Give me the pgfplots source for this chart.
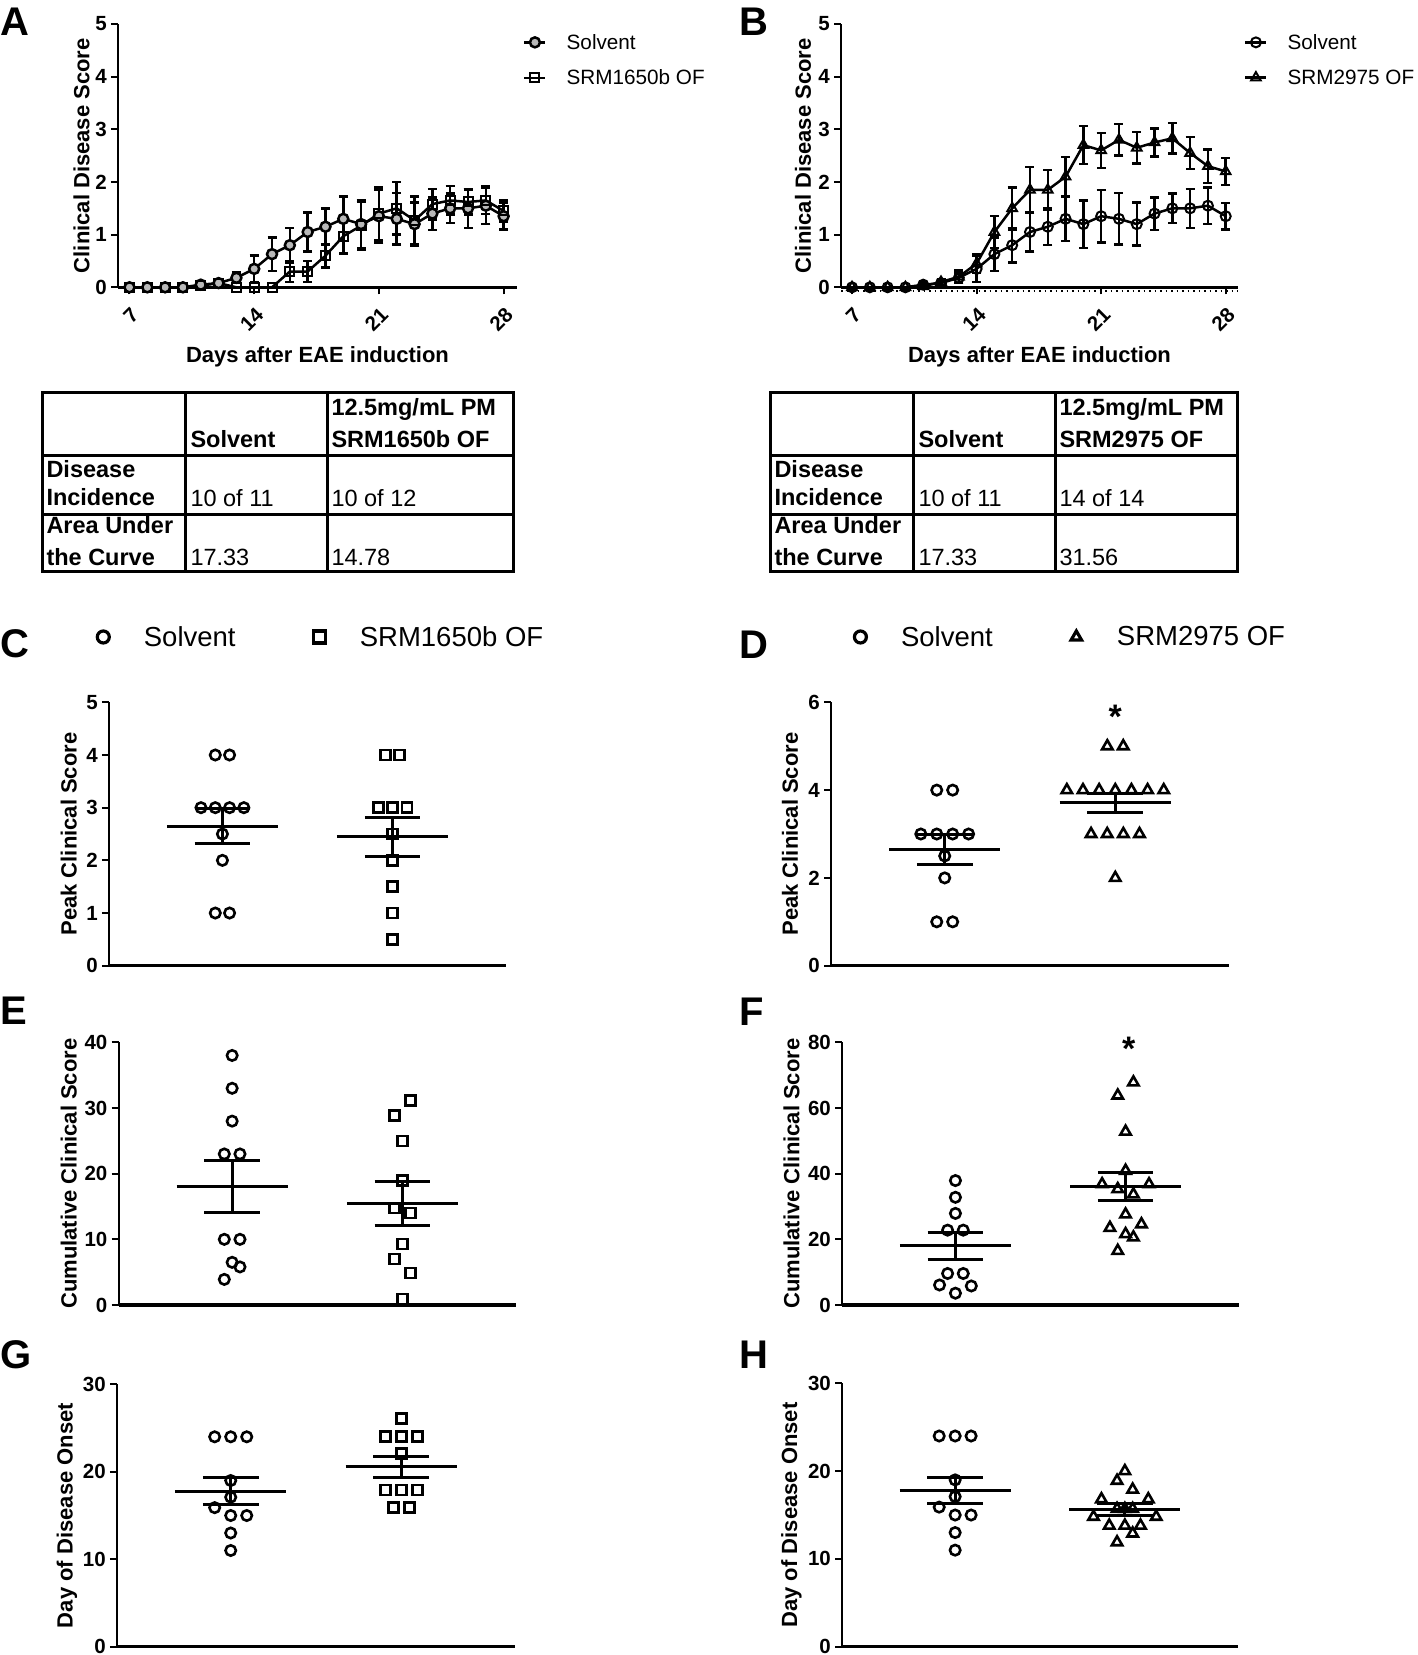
\documentclass[border=0pt]{standalone}
\usepackage{fontspec}
\setmainfont{Liberation Sans}
\usepackage{pgfplots}
\pgfplotsset{compat=1.18}
\newcommand{\fs}[1]{\fontsize{#1}{#1}\selectfont}
\pgfplotsset{
  base/.style={
    scale only axis, anchor=south west, clip=false,
    axis lines=left, axis line style={-, line width=2pt},
    x axis line style={line width=3.5pt},
    tick align=outside, major tick style={black, line width=2pt},
    major tick length=7pt,
    unbounded coords=jump,
    /pgf/number format/assume math mode=true,
    yticklabel style={font=\fs{20.5}\bfseries, inner sep=4pt},
    xticklabel style={font=\fs{20.5}\bfseries},
    label style={font=\fs{22}\bfseries},
  },
  yl/.style={ylabel style={at={(axis description cs:#1,0.5)}, anchor=center}},
  scat/.style={base, xmin=0, xmax=3.5, xtick=\empty,
    legend columns=2,
    legend style={draw=none, fill=none, inner sep=0pt, font=\fs{27.5},
      /tikz/every odd column/.append style={column sep=30.4pt},
      /tikz/every even column/.append style={column sep=73.4pt}},
    legend image post style={mark size=6pt, mark options={line width=3.2pt, solid}},
    legend image code/.code={\draw[##1, mark size=6pt] plot coordinates {(8pt,0pt)}; \path (0pt,-8pt) (16pt,8pt);},
  },
  tc/.style={base, ymin=0, ymax=5, ytick={0,...,5}, xtick={7,14,21,28},
    xticklabel style={xshift=8pt, yshift=-15pt, rotate=45, anchor=east},
    xlabel={Days after EAE induction}, ylabel={Clinical Disease Score},
    xlabel style={at={(axis description cs:0.5,-0.2837)}, anchor=base},
    legend cell align=left,
    legend style={draw=none, fill=none, inner sep=0pt, font=\fs{20.7}, row sep=15pt,
      /tikz/every odd column/.append style={column sep=18pt}},
    legend image code/.code={\draw[##1, mark repeat=2, mark phase=2] plot coordinates {(0pt,0pt) (10.5pt,0pt) (21pt,0pt)};},
  },
  ser/.style={black, line width=2.5pt, mark size=5pt, mark options={line width=2pt, solid},
    error bars/y dir=both, error bars/y explicit,
    error bars/error bar style={line width=2.5pt},
    error bars/error mark options={rotate=90, line width=2.5pt, mark size=4.5pt}},
  mk/.style={only marks, black, mark options={line width=2.6pt, solid}},
  meanline/.style={black, line width=3pt, forget plot},
}
\begin{document}
\begin{tikzpicture}
\useasboundingbox (0pt,0pt) rectangle (1417pt,-1655pt);
% panel letters
\begin{scope}[every node/.style={anchor=base west, inner sep=0pt, font=\fs{40}\bfseries}]
\node at (0pt,-35pt) {A};
\node at (739pt,-35pt) {B};
\node at (0pt,-657pt) {C};
\node at (739pt,-658pt) {D};
\node at (0pt,-1024pt) {E};
\node at (739pt,-1025pt) {F};
\node at (0pt,-1368pt) {G};
\node at (739pt,-1368pt) {H};
\end{scope}
% tables
\begin{scope}[line width=3pt, every node/.style={anchor=base west, inner sep=0pt, font=\fs{23.5}}]
\draw (42pt,-392pt) rectangle (513pt,-571pt);
\draw (185pt,-392pt) -- (185pt,-571pt);
\draw (327pt,-392pt) -- (327pt,-571pt);
\draw (42pt,-455pt) -- (513pt,-455pt);
\draw (42pt,-514pt) -- (513pt,-514pt);
\node[font=\fs{23.5}\bfseries] at (189pt,-447pt) {Solvent};
\node[font=\fs{23.5}\bfseries] at (330pt,-415pt) {12.5mg/mL PM};
\node[font=\fs{23.5}\bfseries] at (330pt,-447pt) {SRM1650b OF};
\node[font=\fs{23.5}\bfseries] at (45pt,-477pt) {Disease};
\node[font=\fs{23.5}\bfseries] at (45pt,-505pt) {Incidence};
\node at (189pt,-506pt) {10 of 11};
\node at (330pt,-506pt) {10 of 12};
\node[font=\fs{23.5}\bfseries] at (45pt,-533pt) {Area Under};
\node[font=\fs{23.5}\bfseries] at (45pt,-565pt) {the Curve};
\node at (189pt,-565pt) {17.33};
\node at (330pt,-565pt) {14.78};
\draw (770pt,-392pt) rectangle (1237pt,-571pt);
\draw (913pt,-392pt) -- (913pt,-571pt);
\draw (1055pt,-392pt) -- (1055pt,-571pt);
\draw (770pt,-455pt) -- (1237pt,-455pt);
\draw (770pt,-514pt) -- (1237pt,-514pt);
\node[font=\fs{23.5}\bfseries] at (917pt,-447pt) {Solvent};
\node[font=\fs{23.5}\bfseries] at (1058pt,-415pt) {12.5mg/mL PM};
\node[font=\fs{23.5}\bfseries] at (1058pt,-447pt) {SRM2975 OF};
\node[font=\fs{23.5}\bfseries] at (773pt,-477pt) {Disease};
\node[font=\fs{23.5}\bfseries] at (773pt,-505pt) {Incidence};
\node at (917pt,-506pt) {10 of 11};
\node at (1058pt,-506pt) {14 of 14};
\node[font=\fs{23.5}\bfseries] at (773pt,-533pt) {Area Under};
\node[font=\fs{23.5}\bfseries] at (773pt,-565pt) {the Curve};
\node at (917pt,-565pt) {17.33};
\node at (1058pt,-565pt) {31.56};
\end{scope}

% ---------- A ----------
\begin{axis}[tc, at={(118pt,-287.3pt)}, width=399pt, height=263.3pt,
  xmin=6.355, xmax=28.75, yl=-0.0915,
  legend style={at={(axis description cs:1.015,0.97)}, anchor=north west}]
\addplot[ser, mark=*, mark options={fill=gray!55}] coordinates {
(7,0) +- (0,0) (8,0) +- (0,0) (9,0) +- (0,0) (10,0) +- (0,0)
(11,0.05) +- (0,0.04) (12,0.08) +- (0,0.06) (13,0.18) +- (0,0.1)
(14,0.35) +- (0,0.25) (15,0.63) +- (0,0.32) (16,0.8) +- (0,0.33)
(17,1.05) +- (0,0.37) (18,1.15) +- (0,0.35) (19,1.3) +- (0,0.42)
(20,1.2) +- (0,0.45) (21,1.35) +- (0,0.5) (22,1.3) +- (0,0.49)
(23,1.2) +- (0,0.41) (24,1.4) +- (0,0.31) (25,1.5) +- (0,0.28)
(26,1.5) +- (0,0.37) (27,1.55) +- (0,0.35) (28,1.35) +- (0,0.25)};
\addlegendentry{Solvent}
\addplot[ser, mark=square, mark size=4.5pt] coordinates {
(7,0) +- (0,0) (8,0) +- (0,0) (9,0) +- (0,0) (10,0) +- (0,0)
(11,0.03) +- (0,0.03) (12,0.08) +- (0,0.05) (13,0) +- (0,0)
(14,0) +- (0,0) (15,0) +- (0,0) (16,0.3) +- (0,0.2)
(17,0.3) +- (0,0.2) (18,0.6) +- (0,0.22) (19,0.97) +- (0,0.33)
(20,1.17) +- (0,0.45) (21,1.4) +- (0,0.5) (22,1.5) +- (0,0.5)
(23,1.27) +- (0,0.45) (24,1.58) +- (0,0.29) (25,1.65) +- (0,0.27)
(26,1.62) +- (0,0.24) (27,1.65) +- (0,0.26) (28,1.45) +- (0,0.2)};
\addlegendentry{SRM1650b OF}
\end{axis}

% ---------- B ----------
\begin{axis}[tc, at={(841pt,-287.3pt)}, width=397pt, height=263.3pt,
  xmin=6.38, xmax=28.69, yl=-0.0957,
  legend style={at={(axis description cs:1.015,0.97)}, anchor=north west}]
\addplot[forget plot, black, line width=2pt, dash pattern=on 1.5pt off 4pt, yshift=-4pt] coordinates {(6.38,0) (28.69,0)};
\addplot[ser, mark=o] coordinates {
(7,0) +- (0,0) (8,0) +- (0,0) (9,0) +- (0,0) (10,0) +- (0,0)
(11,0.05) +- (0,0.04) (12,0.08) +- (0,0.06) (13,0.18) +- (0,0.1)
(14,0.35) +- (0,0.25) (15,0.63) +- (0,0.32) (16,0.8) +- (0,0.33)
(17,1.05) +- (0,0.37) (18,1.15) +- (0,0.35) (19,1.3) +- (0,0.42)
(20,1.2) +- (0,0.45) (21,1.35) +- (0,0.5) (22,1.3) +- (0,0.49)
(23,1.2) +- (0,0.41) (24,1.4) +- (0,0.31) (25,1.5) +- (0,0.28)
(26,1.5) +- (0,0.37) (27,1.55) +- (0,0.35) (28,1.35) +- (0,0.25)};
\addlegendentry{Solvent}
\addplot[ser, mark=triangle, mark size=5.5pt] coordinates {
(7,0) +- (0,0) (8,0) +- (0,0) (9,0) +- (0,0) (10,0) +- (0,0)
(11,0.02) +- (0,0.02) (12,0.1) +- (0,0.06) (13,0.2) +- (0,0.12)
(14,0.45) +- (0,0.18) (15,1.05) +- (0,0.3) (16,1.5) +- (0,0.4)
(17,1.85) +- (0,0.43) (18,1.85) +- (0,0.38) (19,2.1) +- (0,0.37)
(20,2.7) +- (0,0.36) (21,2.6) +- (0,0.33) (22,2.8) +- (0,0.3)
(23,2.65) +- (0,0.3) (24,2.75) +- (0,0.27) (25,2.83) +- (0,0.29)
(26,2.55) +- (0,0.3) (27,2.3) +- (0,0.32) (28,2.2) +- (0,0.26)};
\addlegendentry{SRM2975 OF}
\end{axis}

% ---------- C ----------
\begin{axis}[scat, at={(109pt,-965.7pt)}, width=397pt, height=263.4pt,
  ymin=0, ymax=5, ytick={0,...,5}, ylabel={Peak Clinical Score}, yl=-0.1015,
  legend style={at={(axis description cs:-0.0355,1.248)}, anchor=west}]
\addplot[mk, mark=o, mark size=5.2pt] coordinates {(0.937,4) (1.063,4) (0.811,3) (0.937,3) (1.063,3) (1.189,3) (1,2.5) (1,2) (0.937,1) (1.063,1)};
\addlegendentry{Solvent}
\addplot[mk, mark=square, mark size=5pt] coordinates {(2.437,4) (2.563,4) (2.374,3) (2.5,3) (2.626,3) (2.5,2.5) (2.5,2) (2.5,1.5) (2.5,1) (2.5,0.5)};
\addlegendentry{SRM1650b OF}
\addplot[meanline] coordinates {(0.51,2.65) (1.49,2.65) (nan,nan) (1,2.32) (1,2.98) (nan,nan) (0.755,2.32) (1.245,2.32) (nan,nan) (0.755,2.98) (1.245,2.98)};
\addplot[meanline] coordinates {(2.01,2.45) (2.99,2.45) (nan,nan) (2.5,2.07) (2.5,2.82) (nan,nan) (2.255,2.07) (2.745,2.07) (nan,nan) (2.255,2.82) (2.745,2.82)};
\end{axis}

% ---------- D ----------
\begin{axis}[scat, at={(831pt,-965.7pt)}, width=398pt, height=263.4pt,
  ymin=0, ymax=6, ytick={0,2,4,6}, ylabel={Peak Clinical Score}, yl=-0.103,
  legend style={at={(axis description cs:0.0528,1.248)}, anchor=west}]
\addplot[mk, mark=o, mark size=5.2pt] coordinates {(0.93,4) (1.07,4) (0.79,3) (0.93,3) (1.07,3) (1.21,3) (1,2.5) (1,2) (0.93,1) (1.07,1)};
\addlegendentry{Solvent}
\addplot[mk, mark=triangle, mark size=6pt] coordinates {(2.43,5) (2.57,5) (2.074,4) (2.216,4) (2.358,4) (2.5,4) (2.642,4) (2.784,4) (2.926,4) (2.287,3) (2.429,3) (2.571,3) (2.713,3) (2.5,2)};
\addlegendentry{SRM2975 OF}
\addplot[meanline] coordinates {(0.51,2.65) (1.49,2.65) (nan,nan) (1,2.31) (1,2.98) (nan,nan) (0.755,2.31) (1.245,2.31) (nan,nan) (0.755,2.98) (1.245,2.98)};
\addplot[meanline] coordinates {(2.01,3.71) (2.99,3.71) (nan,nan) (2.5,3.49) (2.5,3.93) (nan,nan) (2.255,3.49) (2.745,3.49) (nan,nan) (2.255,3.93) (2.745,3.93)};
\node[anchor=north, inner sep=0pt, font=\fs{34}\bfseries] at (axis cs:2.5,5.94) {*};
\end{axis}

% ---------- E ----------
\begin{axis}[scat, at={(118.6pt,-1305pt)}, width=397.4pt, height=262.7pt,
  ymin=0, ymax=40, ytick={0,10,...,40}, ylabel={Cumulative Clinical Score}, yl=-0.1256]
\addplot[mk, mark=o, mark size=5.2pt] coordinates {(1,38) (1,33) (1,28) (0.931,23) (1.069,23) (0.931,10) (1.069,10) (1,6.5) (1.069,5.8) (0.931,3.9)};
\addplot[mk, mark=square, mark size=5pt] coordinates {(2.569,31.1) (2.431,28.9) (2.5,25) (2.5,19) (2.431,14.8) (2.569,14) (2.5,9.3) (2.431,7) (2.569,4.9) (2.5,0.9)};
\addplot[meanline] coordinates {(0.51,18.1) (1.49,18.1) (nan,nan) (1,14.1) (1,22.0) (nan,nan) (0.755,14.1) (1.245,14.1) (nan,nan) (0.755,22.0) (1.245,22.0)};
\addplot[meanline] coordinates {(2.01,15.5) (2.99,15.5) (nan,nan) (2.5,12.1) (2.5,18.8) (nan,nan) (2.255,12.1) (2.745,12.1) (nan,nan) (2.255,18.8) (2.745,18.8)};
\end{axis}

% ---------- F ----------
\begin{axis}[scat, at={(842pt,-1305pt)}, width=397pt, height=262.7pt,
  ymin=0, ymax=80, ytick={0,20,...,80}, ylabel={Cumulative Clinical Score}, yl=-0.127]
\addplot[mk, mark=o, mark size=5.2pt] coordinates {(1,37.9) (1,32.8) (1,27.9) (0.931,22.8) (1.069,22.8) (0.931,9.6) (1.069,9.6) (0.86,6.1) (1.14,5.8) (1,3.6)};
\addplot[mk, mark=triangle, mark size=6pt] coordinates {(2.569,67.8) (2.431,63.8) (2.5,52.8) (2.5,40.9) (2.293,36.8) (2.707,36.8) (2.431,35.3) (2.569,33.7) (2.5,27.6) (2.64,24.6) (2.362,23.5) (2.5,21.6) (2.569,20.6) (2.431,16.5)};
\addplot[meanline] coordinates {(0.51,18.0) (1.49,18.0) (nan,nan) (1,14.0) (1,22.0) (nan,nan) (0.755,14.0) (1.245,14.0) (nan,nan) (0.755,22.0) (1.245,22.0)};
\addplot[meanline] coordinates {(2.01,36.0) (2.99,36.0) (nan,nan) (2.5,31.8) (2.5,40.3) (nan,nan) (2.255,31.8) (2.745,31.8) (nan,nan) (2.255,40.3) (2.745,40.3)};
\node[anchor=north, inner sep=0pt, font=\fs{34}\bfseries] at (axis cs:2.527,81.6) {*};
\end{axis}

% ---------- G ----------
\begin{axis}[scat, at={(117pt,-1646.7pt)}, width=398pt, height=262.4pt,
  ymin=0, ymax=30, ytick={0,10,20,30}, ylabel={Day of Disease Onset}, yl=-0.1256]
\addplot[mk, mark=o, mark size=5.2pt] coordinates {(0.859,24) (1,24) (1.141,24) (1,19) (1,17.1) (0.859,15.9) (1,15) (1.141,15) (1,13) (1,11)};
\addplot[mk, mark=square, mark size=5pt] coordinates {(2.5,26.1) (2.359,24) (2.5,24) (2.641,24) (2.5,22.1) (2.359,17.9) (2.5,17.9) (2.641,17.9) (2.43,15.9) (2.57,15.9)};
\addplot[meanline] coordinates {(0.51,17.8) (1.49,17.8) (nan,nan) (1,16.3) (1,19.3) (nan,nan) (0.755,16.3) (1.245,16.3) (nan,nan) (0.755,19.3) (1.245,19.3)};
\addplot[meanline] coordinates {(2.01,20.6) (2.99,20.6) (nan,nan) (2.5,19.4) (2.5,21.8) (nan,nan) (2.255,19.4) (2.745,19.4) (nan,nan) (2.255,21.8) (2.745,21.8)};
\end{axis}

% ---------- H ----------
\begin{axis}[scat, at={(842pt,-1646.7pt)}, width=396pt, height=263.4pt,
  ymin=0, ymax=30, ytick={0,10,20,30}, ylabel={Day of Disease Onset}, yl=-0.1275]
\addplot[mk, mark=o, mark size=5.2pt] coordinates {(0.859,24) (1,24) (1.141,24) (1,19) (1,17.1) (0.859,15.9) (1,15) (1.141,15) (1,13) (1,11)};
\addplot[mk, mark=triangle, mark size=6pt] coordinates {(2.5,20) (2.431,18.9) (2.569,17.9) (2.293,16.8) (2.707,16.8) (2.431,15.7) (2.5,15.7) (2.569,15.7) (2.223,14.8) (2.777,14.8) (2.362,13.8) (2.5,13.8) (2.638,13.8) (2.569,12.9) (2.431,11.9)};
\addplot[meanline] coordinates {(0.51,17.8) (1.49,17.8) (nan,nan) (1,16.3) (1,19.3) (nan,nan) (0.755,16.3) (1.245,16.3) (nan,nan) (0.755,19.3) (1.245,19.3)};
\addplot[meanline] coordinates {(2.01,15.65) (2.99,15.65) (nan,nan) (2.5,15.0) (2.5,16.35) (nan,nan) (2.255,15.0) (2.745,15.0) (nan,nan) (2.255,16.35) (2.745,16.35)};
\end{axis}
\end{tikzpicture}
\end{document}
